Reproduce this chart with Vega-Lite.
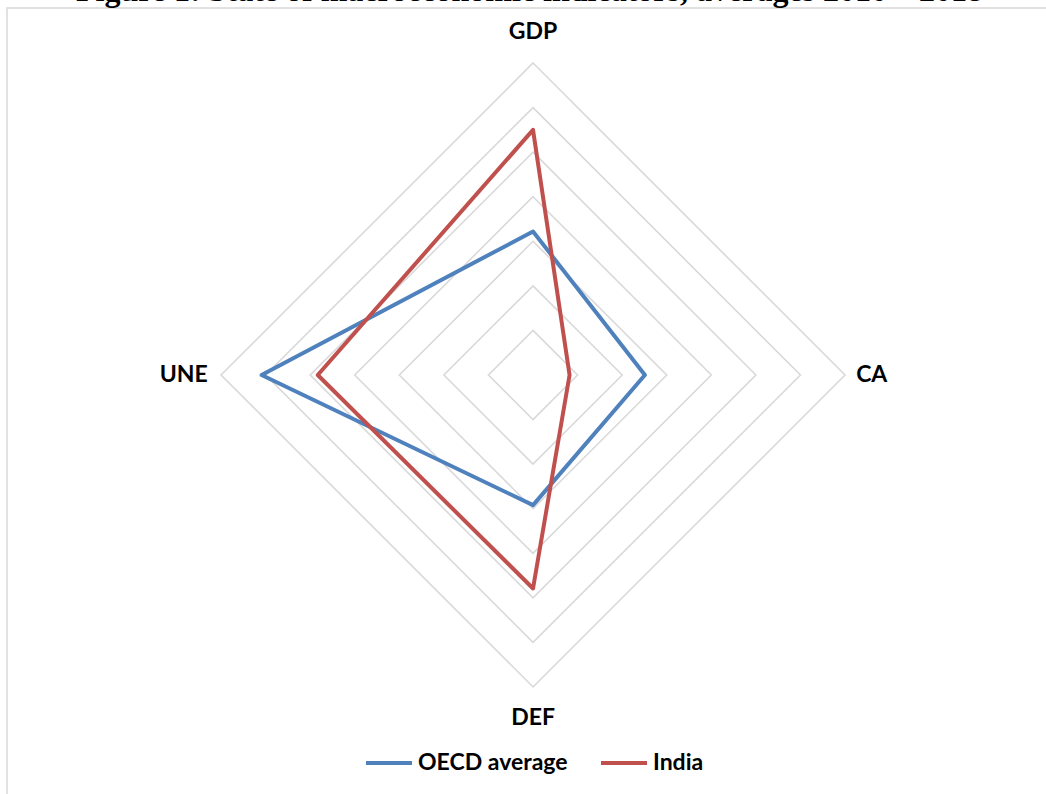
{
  "$schema": "https://vega.github.io/schema/vega-lite/v6.json",
  "width": 1045,
  "height": 800,
  "autosize": "none",
  "padding": {"left": 7, "top": 8, "right": 0, "bottom": 0},
  "background": "white",
  "title": {
    "text": "Figure 1: State of macroeconomic indicators, averages 2010 – 2018",
    "font": "Liberation Serif",
    "fontSize": 32,
    "fontWeight": "bold",
    "color": "#000000",
    "anchor": "middle",
    "baseline": "alphabetic",
    "offset": 0,
    "dy": 25
  },
  "config": {"view": {"stroke": "#d9d9d9", "strokeWidth": 1.5}},
  "datasets": {
    "series": [
      {"series": "OECD average", "indicator": "GDP", "value": 3.22},
      {"series": "OECD average", "indicator": "CA", "value": 2.51},
      {"series": "OECD average", "indicator": "DEF", "value": 2.92},
      {"series": "OECD average", "indicator": "UNE", "value": 6.09},
      {"series": "India", "indicator": "GDP", "value": 5.5},
      {"series": "India", "indicator": "CA", "value": 0.82},
      {"series": "India", "indicator": "DEF", "value": 4.79},
      {"series": "India", "indicator": "UNE", "value": 4.83}
    ],
    "grid": [
      {"level": 1, "indicator": "GDP"}, {"level": 1, "indicator": "CA"}, {"level": 1, "indicator": "DEF"}, {"level": 1, "indicator": "UNE"},
      {"level": 2, "indicator": "GDP"}, {"level": 2, "indicator": "CA"}, {"level": 2, "indicator": "DEF"}, {"level": 2, "indicator": "UNE"},
      {"level": 3, "indicator": "GDP"}, {"level": 3, "indicator": "CA"}, {"level": 3, "indicator": "DEF"}, {"level": 3, "indicator": "UNE"},
      {"level": 4, "indicator": "GDP"}, {"level": 4, "indicator": "CA"}, {"level": 4, "indicator": "DEF"}, {"level": 4, "indicator": "UNE"},
      {"level": 5, "indicator": "GDP"}, {"level": 5, "indicator": "CA"}, {"level": 5, "indicator": "DEF"}, {"level": 5, "indicator": "UNE"},
      {"level": 6, "indicator": "GDP"}, {"level": 6, "indicator": "CA"}, {"level": 6, "indicator": "DEF"}, {"level": 6, "indicator": "UNE"},
      {"level": 7, "indicator": "GDP"}, {"level": 7, "indicator": "CA"}, {"level": 7, "indicator": "DEF"}, {"level": 7, "indicator": "UNE"}
    ],
    "labels": [
      {"indicator": "GDP"}, {"indicator": "CA"}, {"indicator": "DEF"}, {"indicator": "UNE"}
    ]
  },
  "layer": [
    {
      "data": {"name": "grid"},
      "transform": [
        {"calculate": "indexof(['GDP','CA','DEF','UNE'], datum.indicator)", "as": "idx"},
        {"calculate": "datum.level * [0,1,0,-1][datum.idx]", "as": "x"},
        {"calculate": "datum.level * [1,0,-1,0][datum.idx]", "as": "y"}
      ],
      "mark": {"type": "line", "interpolate": "linear-closed", "stroke": "#d9d9d9", "strokeWidth": 1.6},
      "encoding": {
        "x": {"field": "x", "type": "quantitative", "scale": {"domain": [-11.802, 11.644], "nice": false, "zero": false}, "axis": null},
        "y": {"field": "y", "type": "quantitative", "scale": {"domain": [-9.715, 8.234], "nice": false, "zero": false}, "axis": null},
        "detail": {"field": "level", "type": "nominal"},
        "order": {"field": "idx", "type": "quantitative"}
      }
    },
    {
      "data": {"name": "series"},
      "transform": [
        {"calculate": "indexof(['GDP','CA','DEF','UNE'], datum.indicator)", "as": "idx"},
        {"calculate": "datum.value * [0,1,0,-1][datum.idx]", "as": "x"},
        {"calculate": "datum.value * [1,0,-1,0][datum.idx]", "as": "y"}
      ],
      "mark": {"type": "line", "interpolate": "linear-closed", "strokeWidth": 4, "strokeJoin": "round"},
      "encoding": {
        "x": {"field": "x", "type": "quantitative"},
        "y": {"field": "y", "type": "quantitative"},
        "color": {
          "field": "series",
          "type": "nominal",
          "scale": {"domain": ["OECD average", "India"], "range": ["#4f81bd", "#c0504d"]},
          "legend": {
            "orient": "none",
            "legendX": 357,
            "legendY": 730,
            "direction": "horizontal",
            "title": null,
            "symbolType": "stroke",
            "symbolSize": 2116,
            "symbolStrokeWidth": 4,
            "labelFont": "Lato",
            "labelFontSize": 23,
            "labelFontWeight": "bold",
            "labelColor": "#000000",
            "labelOffset": 4,
            "columnPadding": 25,
            "padding": 0
          }
        },
        "order": {"field": "idx", "type": "quantitative"}
      }
    },
    {
      "data": {"name": "labels"},
      "transform": [
        {"filter": "datum.indicator === 'GDP' || datum.indicator === 'DEF'"},
        {"calculate": "datum.indicator === 'GDP' ? 7.7 : -7.7", "as": "y"},
        {"calculate": "0", "as": "x"}
      ],
      "mark": {"type": "text", "font": "Lato", "fontSize": 23, "fontWeight": "bold", "color": "#000000", "align": "center", "baseline": "middle"},
      "encoding": {
        "x": {"field": "x", "type": "quantitative"},
        "y": {"field": "y", "type": "quantitative"},
        "text": {"field": "indicator"}
      }
    },
    {
      "data": {"name": "labels"},
      "transform": [
        {"filter": "datum.indicator === 'CA'"},
        {"calculate": "7.25", "as": "x"},
        {"calculate": "0", "as": "y"}
      ],
      "mark": {"type": "text", "font": "Lato", "fontSize": 23, "fontWeight": "bold", "color": "#000000", "align": "left", "baseline": "middle"},
      "encoding": {
        "x": {"field": "x", "type": "quantitative"},
        "y": {"field": "y", "type": "quantitative"},
        "text": {"field": "indicator"}
      }
    },
    {
      "data": {"name": "labels"},
      "transform": [
        {"filter": "datum.indicator === 'UNE'"},
        {"calculate": "-7.3", "as": "x"},
        {"calculate": "0", "as": "y"}
      ],
      "mark": {"type": "text", "font": "Lato", "fontSize": 23, "fontWeight": "bold", "color": "#000000", "align": "right", "baseline": "middle"},
      "encoding": {
        "x": {"field": "x", "type": "quantitative"},
        "y": {"field": "y", "type": "quantitative"},
        "text": {"field": "indicator"}
      }
    }
  ]
}
